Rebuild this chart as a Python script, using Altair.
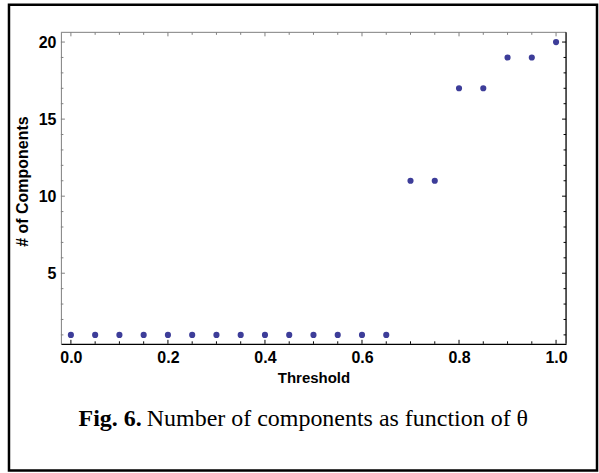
import altair as alt
import pandas as pd

# data
thresholds = [0.0, 0.05, 0.1, 0.15, 0.2, 0.25, 0.3, 0.35, 0.4, 0.45, 0.5,
              0.55, 0.6, 0.65, 0.7, 0.75, 0.8, 0.85, 0.9, 0.95, 1.0]
components = [1, 1, 1, 1, 1, 1, 1, 1, 1, 1, 1, 1, 1, 1, 11, 11, 17, 17, 19, 19, 20]

x_major = [0.0, 0.2, 0.4, 0.6, 0.8, 1.0]
x_minor = [0.05, 0.1, 0.15, 0.25, 0.3, 0.35, 0.45, 0.5, 0.55, 0.65, 0.7, 0.75, 0.85, 0.9, 0.95]
y_major = [5, 10, 15, 20]
y_minor = [1, 2, 3, 4, 6, 7, 8, 9, 11, 12, 13, 14, 16, 17, 18, 19]

x_title = "Threshold"
y_title = "# of Components"
caption_bold = "Fig. 6."
caption_rest = "Number of components as function of θ"

W, H = 506, 312
XDOM = [-0.0206, 1.0206]
YDOM = [0.42, 20.63]
DOT = "#3d3d99"

df = pd.DataFrame({"t": thresholds, "n": components})
xs = alt.Scale(domain=XDOM, nice=False, zero=False)
ys = alt.Scale(domain=YDOM, nice=False, zero=False)

points = alt.Chart(df).mark_circle(size=38, color=DOT, opacity=1).encode(
    x=alt.X("t:Q", scale=xs, axis=alt.Axis(
        title=x_title, values=x_major, format=".1f", ticks=False,
        domainColor="#000000", domainWidth=1.3, labelPadding=6,
        labelFont="Liberation Sans", labelFontWeight="bold", labelFontSize=16,
        labelColor="#000000", titleFont="Liberation Sans", titleFontWeight="bold",
        titleFontSize=15, titleColor="#000000", titlePadding=5, grid=False)),
    y=alt.Y("n:Q", scale=ys, axis=alt.Axis(
        title=y_title, values=y_major, ticks=False,
        domainColor="#808080", domainWidth=1, labelPadding=5,
        labelFont="Liberation Sans", labelFontWeight="bold", labelFontSize=16,
        labelColor="#000000", titleFont="Liberation Sans", titleFontWeight="bold",
        titleFontSize=16, titleColor="#000000", titlePadding=8, titleY=149,
        grid=False)),
)

def xticks(vals, length, color):
    d = pd.DataFrame({"v": vals})
    bottom = alt.Chart(d).mark_rule(color=color, strokeWidth=1).encode(
        x=alt.X("v:Q", scale=xs), y=alt.value(H), y2=alt.value(H - length))
    top = alt.Chart(d).mark_rule(color="#808080", strokeWidth=1).encode(
        x=alt.X("v:Q", scale=xs), y=alt.value(0), y2=alt.value(length))
    return [bottom, top]

def yticks(vals, length):
    d = pd.DataFrame({"v": vals})
    left = alt.Chart(d).mark_rule(color="#808080", strokeWidth=1).encode(
        y=alt.Y("v:Q", scale=ys), x=alt.value(0), x2=alt.value(length))
    right = alt.Chart(d).mark_rule(color="#000000", strokeWidth=1).encode(
        y=alt.Y("v:Q", scale=ys), x=alt.value(W), x2=alt.value(W - length))
    return [left, right]

frame_top = alt.Chart(pd.DataFrame({"a": [0]})).mark_rule(color="#808080", strokeWidth=1).encode(
    x=alt.value(0), x2=alt.value(W), y=alt.value(0))
frame_right = alt.Chart(pd.DataFrame({"a": [0]})).mark_rule(color="#000000", strokeWidth=1.3).encode(
    x=alt.value(W), y=alt.value(0), y2=alt.value(H))

border = alt.Chart(pd.DataFrame({"a": [0]})).mark_rect(
    fill=None, stroke="#000000", strokeWidth=2.5).encode(
    x=alt.value(-52), x2=alt.value(537), y=alt.value(-27.7), y2=alt.value(438.8))

cap1 = alt.Chart(pd.DataFrame({"s": [caption_bold]})).mark_text(
    font="Liberation Serif", fontSize=24, fontWeight="bold", align="right",
    baseline="alphabetic", color="#000000").encode(
    text="s:N", x=alt.value(81), y=alt.value(394))
cap2 = alt.Chart(pd.DataFrame({"s": [caption_rest]})).mark_text(
    font="Liberation Serif", fontSize=24, align="left",
    baseline="alphabetic", color="#000000").encode(
    text="s:N", x=alt.value(86), y=alt.value(394))

layers = [border, frame_top, frame_right]
layers += xticks(x_major, 4, "#000000") + xticks(x_minor, 2.5, "#000000")
layers += yticks(y_major, 4) + yticks(y_minor, 2.5)
layers += [points, cap1, cap2]

chart = alt.layer(*layers).properties(
    width=W, height=H,
    padding={"left": 7, "top": 3, "right": 0, "bottom": 0},
    background="#ffffff",
).configure_view(stroke=None)

chart.save("out.html", embed_options={"renderer": "svg", "actions": False})
